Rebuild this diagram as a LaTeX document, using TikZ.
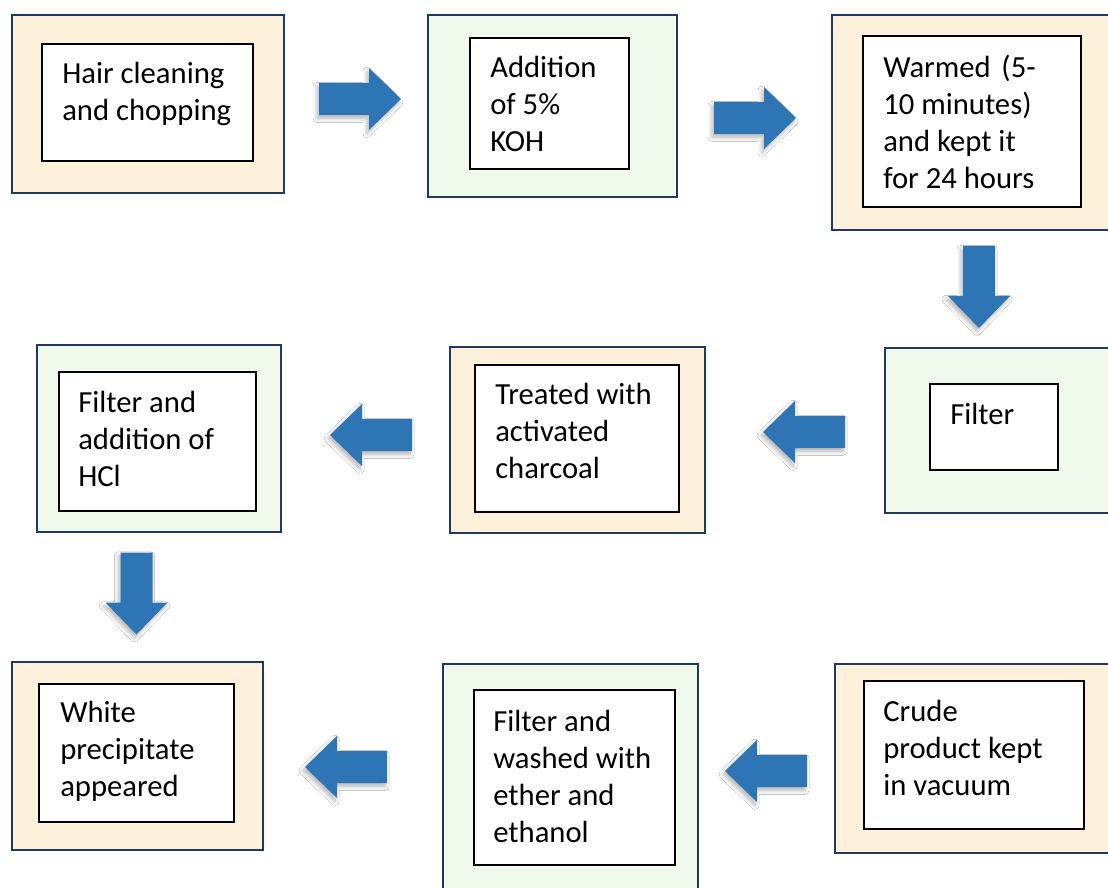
\documentclass[tikz,border=0pt]{standalone}
\usepackage{fontspec}
\setmainfont{Carlito}
\usetikzlibrary{fit,shadows.blur}
\definecolor{cream}{HTML}{FEF1DC}
\definecolor{pgreen}{HTML}{F1F8EC}
\definecolor{navy}{HTML}{1F3864}
\definecolor{ablue}{HTML}{2E75B6}
\tikzset{
  outerbox/.style={draw=navy, line width=1.9pt, inner sep=0pt},
  creambox/.style={outerbox, fill=cream},
  greenbox/.style={outerbox, fill=pgreen},
  innerbox/.style={draw=black, line width=0.8pt, fill=white, inner sep=0pt},
  txt/.style={anchor=north west, align=left, inner sep=0pt,
    font=\fontsize{23pt}{27.75pt}\selectfont},
  barrow/.pic={
    \fill[ablue, blur shadow={shadow xshift=-1.5pt, shadow yshift=-2.5pt, shadow blur steps=8, shadow blur radius=3pt, shadow opacity=30}]
      (-41,-16) -- (9,-16) -- (9,-31) -- (41,0) -- (9,31) -- (9,16) -- (-41,16) -- cycle;
  }
}
\begin{document}
\begin{tikzpicture}[x=0.75pt, y=-0.75pt]
\useasboundingbox (0,0) rectangle (1108,888);
\fill[white] (0,0) rectangle (1108,888);

% Box 1
\node[creambox, fit={(12,15) (284,193)}] (o1) {};
\node[innerbox, fit={(42,44) (253,161)}] (i1) {};
\node[txt] (t1) at (62,62) {Hair cleaning\\and chopping};
% Box 2
\node[greenbox, fit={(428,15) (677,197)}] (o2) {};
\node[innerbox, fit={(470,38) (629,169)}] (i2) {};
\node[txt] (t2) at (490,56) {Addition\\of 5\%\\KOH};
% Box 3
\node[creambox, fit={(832,15) (1109,230)}] (o3) {};
\node[innerbox, fit={(863,36) (1081,207)}] (i3) {};
\node[txt] (t3) at (883,55) {Warmed\hspace{0.35em}(5-\\10 minutes)\\and kept it\\for 24 hours};
% Box 4
\node[greenbox, fit={(885,348) (1109,513)}] (o4) {};
\node[innerbox, fit={(930,384) (1058,470)}] (i4) {};
\node[txt] (t4) at (950,403) {Filter};
% Box 5
\node[creambox, fit={(450,347) (705,533)}] (o5) {};
\node[innerbox, fit={(475,365) (679,512)}] (i5) {};
\node[txt] (t5) at (495,383) {Treated with\\activated\\charcoal};
% Box 6
\node[greenbox, fit={(37,345) (281,532)}] (o6) {};
\node[innerbox, fit={(59,372) (256,511)}] (i6) {};
\node[txt] (t6) at (78,391) {Filter and\\addition of\\HCl};
% Box 7
\node[creambox, fit={(12,662) (263,850)}] (o7) {};
\node[innerbox, fit={(39,684) (234,822)}] (i7) {};
\node[txt] (t7) at (60,701) {White\\precipitate\\appeared};
% Box 8
\node[greenbox, fit={(443,664) (698,890)}] (o8) {};
\node[innerbox, fit={(474,690) (675,865)}] (i8) {};
\node[txt] (t8) at (493,710) {Filter and\\washed with\\ether and\\ethanol};
% Box 9
\node[creambox, fit={(835,664) (1109,853)}] (o9) {};
\node[innerbox, fit={(864,681) (1084,829)}] (i9) {};
\node[txt] (t9) at (883,700) {Crude\\product kept\\in vacuum};

% Arrows
\pic at (360,99) {barrow};
\pic at (755,118) {barrow};
\pic[rotate=-90] at (979,287) {barrow};
\pic[rotate=180] at (804,432) {barrow};
\pic[rotate=180] at (371,435) {barrow};
\pic[rotate=-90] at (136.5,593.5) {barrow};
\pic[rotate=180] at (766,771) {barrow};
\pic[rotate=180] at (346,767) {barrow};
\end{tikzpicture}
\end{document}
